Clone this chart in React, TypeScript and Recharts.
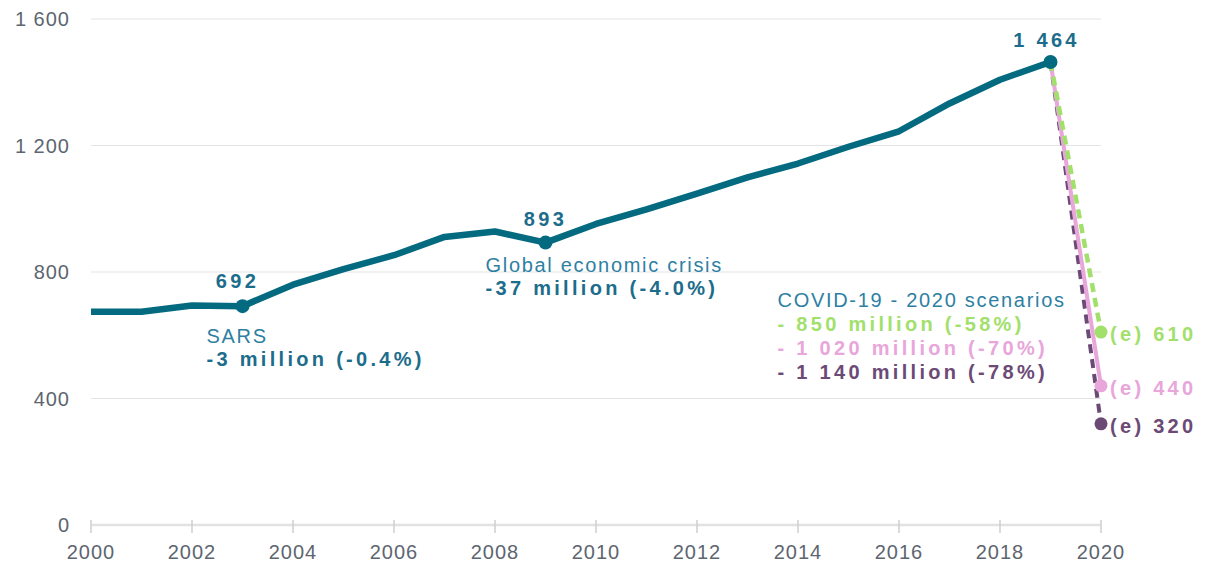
import React from 'react';
import { LineChart, Line, XAxis, YAxis, CartesianGrid } from 'recharts';

const years = [2000, 2001, 2002, 2003, 2004, 2005, 2006, 2007, 2008, 2009, 2010, 2011, 2012, 2013, 2014, 2015, 2016, 2017, 2018, 2019, 2020];
const arrivals = [674, 674, 694, 692, 760, 809, 853, 911, 928, 893, 952, 998, 1048, 1099, 1143, 1196, 1245, 1333, 1408, 1464, null];

// 2020 scenarios, starting from the 2019 value
const scenarioYears = [2019, 2020];
const scenarioA = [1464, 610];
const scenarioB = [1464, 440];
const scenarioC = [1464, 320];
const scenarioLabels = ['(e) 610', '(e) 440', '(e) 320'];

const xTicks = [2000, 2002, 2004, 2006, 2008, 2010, 2012, 2014, 2016, 2018, 2020];
const yTicks = [0, 400, 800, 1200, 1600];

const eventYears = [2003, 2009, 2019];
const eventNames = ['SARS', 'Global economic crisis', 'COVID-19 - 2020 scenarios'];
const eventImpacts = [
  ['-3 million (-0.4%)'],
  ['-37 million (-4.0%)'],
  ['- 850 million (-58%)', '- 1 020 million (-70%)', '- 1 140 million (-78%)'],
];

const TEAL = '#036a80';
const TEAL_TEXT = '#1c6d8b';
const TEAL_LIGHT = '#2e7fa3';
const GREEN = '#a2e06c';
const PINK = '#e8a6da';
const PURPLE = '#6c4a76';
const scenarioColors = [GREEN, PINK, PURPLE];
const FONT = '"Liberation Sans", Arial, sans-serif';

const fmt = (v: number) =>
  v >= 1000 ? `${Math.floor(v / 1000)} ${String(v % 1000).padStart(3, '0')}` : String(v);

const data = years.map((year, i) => {
  const s = scenarioYears.indexOf(year);
  return {
    year,
    arrivals: arrivals[i],
    a: s >= 0 ? scenarioA[s] : null,
    b: s >= 0 ? scenarioB[s] : null,
    c: s >= 0 ? scenarioC[s] : null,
  };
});

// label placement relative to each event point
const layout: Record<number, { vdx: number; vdy: number; ndx: number; ndy: number; gap: number }> = {
  2003: { vdx: -5, vdy: -25, ndx: -36, ndy: 30, gap: 23 },
  2009: { vdx: 0, vdy: -24, ndx: -60, ndy: 22, gap: 23 },
  2019: { vdx: -4, vdy: -22, ndx: -273, ndy: 238, gap: 24 },
};

const regular = { fontFamily: FONT, fontSize: 20, letterSpacing: 1.7 };
const bold = { fontFamily: FONT, fontSize: 20, fontWeight: 700, letterSpacing: 3.3 };

const MainDot = (props: any) => {
  const { cx, cy, payload, index } = props;
  const e = eventYears.indexOf(payload.year);
  if (e < 0 || cx == null) return <g key={`d${index}`} />;
  const l = layout[payload.year];
  const impacts = eventImpacts[e];
  return (
    <g key={`d${index}`}>
      <circle cx={cx} cy={cy} r={7} fill={TEAL} />
      <text x={cx + l.vdx} y={cy + l.vdy} textAnchor="middle" dominantBaseline="central" fill={TEAL_TEXT} style={bold}>
        {fmt(payload.arrivals)}
      </text>
      <text x={cx + l.ndx} y={cy + l.ndy} dominantBaseline="central" fill={TEAL_LIGHT} style={regular}>
        {eventNames[e]}
      </text>
      {impacts.map((t, k) => (
        <text
          key={k}
          x={cx + l.ndx}
          y={cy + l.ndy + l.gap * (k + 1)}
          dominantBaseline="central"
          fill={impacts.length > 1 ? scenarioColors[k] : TEAL_TEXT}
          style={bold}
        >
          {t}
        </text>
      ))}
    </g>
  );
};

const makeEndDot = (k: number) => (props: any) => {
  const { cx, cy, index } = props;
  if (props.payload.year !== 2020 || cx == null) return <g key={`e${k}${index}`} />;
  return (
    <g key={`e${k}${index}`}>
      <circle cx={cx} cy={cy} r={6.5} fill={scenarioColors[k]} />
      <text x={cx + 9} y={cy + 2} dominantBaseline="central" fill={scenarioColors[k]} style={bold}>
        {scenarioLabels[k]}
      </text>
    </g>
  );
};

const XTick = (props: any) => {
  const { x, y, payload } = props;
  return (
    <g>
      <line x1={x} x2={x} y1={y - 5} y2={y + 8} stroke="#cfcfcf" strokeWidth={1.5} />
      <text x={x} y={y + 27} textAnchor="middle" dominantBaseline="central" fill="#5d6570"
        style={{ fontFamily: FONT, fontSize: 20, letterSpacing: 1 }}>
        {payload.value}
      </text>
    </g>
  );
};

export default function App() {
  return (
    <div style={{ position: 'absolute', left: 0, top: 0, background: '#fff' }}>
      <LineChart width={1217} height={568} data={data} margin={{ top: 19, right: 116, bottom: 0, left: 0 }}>
        <CartesianGrid vertical={false} stroke="#e4e4e4" strokeWidth={1.2} />
        <XAxis
          dataKey="year"
          type="number"
          domain={[2000, 2020]}
          ticks={xTicks}
          height={43}
          tickLine={false}
          tickSize={0}
          tickMargin={0}
          axisLine={{ stroke: '#e2e2e2', strokeWidth: 2.5 }}
          tick={<XTick />}
        />
        <YAxis
          domain={[0, 1600]}
          ticks={yTicks}
          width={91}
          axisLine={false}
          tickLine={false}
          tickSize={0}
          tickMargin={21}
          tickFormatter={fmt}
          tick={{ fill: '#5d6570', fontSize: 20, fontFamily: FONT, letterSpacing: 1 }}
        />
        <Line dataKey="c" stroke={PURPLE} strokeWidth={4} strokeDasharray="9 6" dot={makeEndDot(2)} isAnimationActive={false} />
        <Line dataKey="b" stroke={PINK} strokeWidth={4} dot={makeEndDot(1)} isAnimationActive={false} />
        <Line dataKey="a" stroke={GREEN} strokeWidth={4.5} strokeDasharray="9 6" dot={makeEndDot(0)} isAnimationActive={false} />
        <Line
          dataKey="arrivals"
          stroke={TEAL}
          strokeWidth={6.5}
          strokeLinejoin="round"
          dot={MainDot}
          activeDot={false}
          isAnimationActive={false}
        />
      </LineChart>
    </div>
  );
}
